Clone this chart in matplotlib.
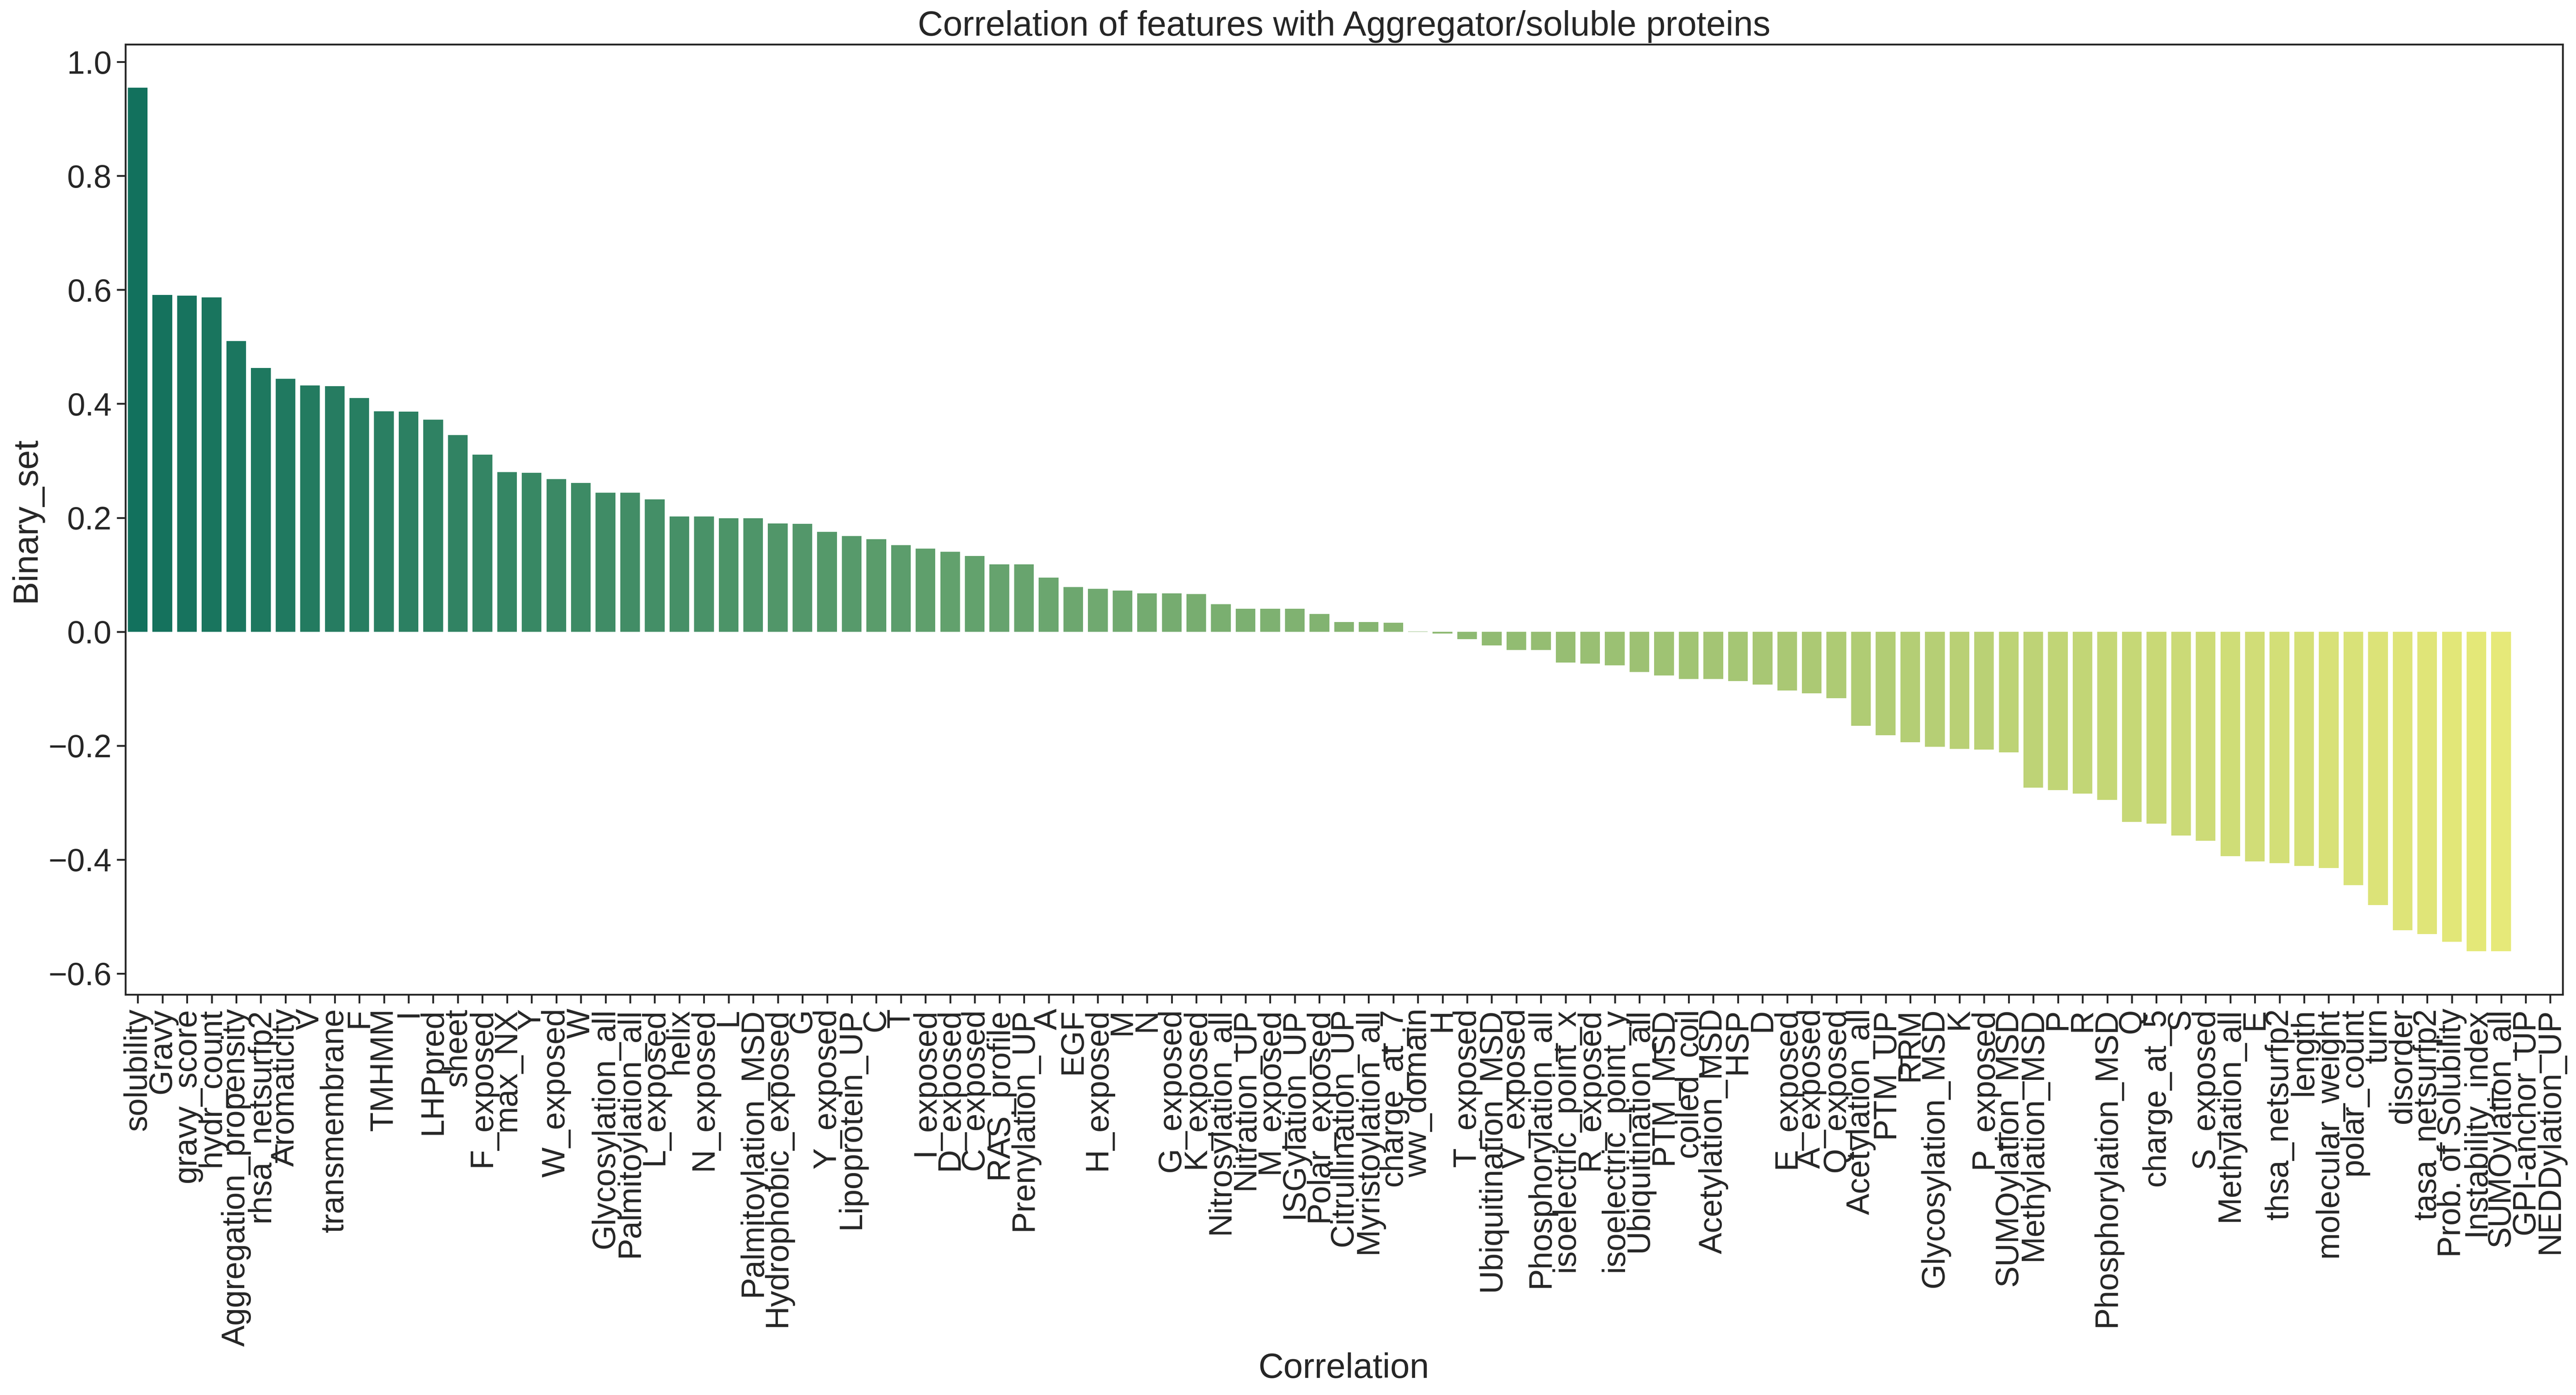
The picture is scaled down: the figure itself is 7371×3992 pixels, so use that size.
"""
Bar chart: correlation of each feature with the Aggregator/soluble label.
Writes out.png (7371 x 3992 px).
"""

import matplotlib

matplotlib.use("Agg")
import matplotlib.pyplot as plt
import seaborn as sns

features = [
    "solubility", "Gravy", "gravy_score", "hydr_count", "Aggregation_propensity",
    "rhsa_netsurfp2", "Aromaticity", "V", "transmembrane", "F",
    "TMHMM", "I", "LHPpred", "sheet", "F_exposed",
    "max_NX", "Y", "W_exposed", "W", "Glycosylation_all",
    "Palmitoylation_all", "L_exposed", "helix", "N_exposed", "L",
    "Palmitoylation_MSD", "Hydrophobic_exposed", "G", "Y_exposed", "Lipoprotein_UP",
    "C", "T", "I_exposed", "D_exposed", "C_exposed",
    "RAS_profile", "Prenylation_UP", "A", "EGF", "H_exposed",
    "M", "N", "G_exposed", "K_exposed", "Nitrosylation_all",
    "Nitration_UP", "M_exposed", "ISGylation_UP", "Polar_exposed", "Citrullination_UP",
    "Myristoylation_all", "charge_at_7", "ww_domain", "H", "T_exposed",
    "Ubiquitination_MSD", "V_exposed", "Phosphorylation_all", "isoelectric_point_x", "R_exposed",
    "isoelectric_point_y", "Ubiquitination_all", "PTM_MSD", "coiled_coil", "Acetylation_MSD",
    "HSP", "D", "E_exposed", "A_exposed", "Q_exposed",
    "Acetylation_all", "PTM_UP", "RRM", "Glycosylation_MSD", "K",
    "P_exposed", "SUMOylation_MSD", "Methylation_MSD", "P", "R",
    "Phosphorylation_MSD", "Q", "charge_at_5", "S", "S_exposed",
    "Methylation_all", "E", "thsa_netsurfp2", "length", "molecular_weight",
    "polar_count", "turn", "disorder", "tasa_netsurfp2", "Prob. of Solubility",
    "Instability_index", "SUMOylation_all", "GPI-anchor_UP", "NEDDylation_UP",
]

correlation = [
    0.955, 0.591, 0.590, 0.587, 0.510,
    0.463, 0.444, 0.432, 0.431, 0.410,
    0.387, 0.386, 0.372, 0.345, 0.311,
    0.280, 0.279, 0.268, 0.261, 0.244,
    0.244, 0.232, 0.202, 0.202, 0.199,
    0.199, 0.190, 0.189, 0.175, 0.168,
    0.162, 0.152, 0.146, 0.140, 0.133,
    0.118, 0.118, 0.095, 0.078, 0.075,
    0.072, 0.067, 0.067, 0.066, 0.048,
    0.040, 0.040, 0.040, 0.031, 0.017,
    0.017, 0.016, 0.0005, -0.003, -0.013,
    -0.024, -0.032, -0.032, -0.054, -0.056,
    -0.059, -0.071, -0.077, -0.083, -0.083,
    -0.087, -0.093, -0.103, -0.108, -0.117,
    -0.165, -0.182, -0.194, -0.202, -0.206,
    -0.207, -0.212, -0.274, -0.278, -0.284,
    -0.295, -0.334, -0.337, -0.358, -0.367,
    -0.394, -0.403, -0.406, -0.411, -0.415,
    -0.445, -0.480, -0.524, -0.531, -0.544,
    -0.561, -0.561, 0.0, 0.0,
]

TITLE = "Correlation of features with Aggregator/soluble proteins"

sns.set_theme(style="ticks", font_scale=2)
plt.rcParams["font.family"] = ["Liberation Sans", "DejaVu Sans"]

# seaborn barplot look: "summer" palette, desaturated to 0.75
colors = [sns.desaturate(c, 0.75) for c in sns.color_palette("summer", len(features))]

fig = plt.figure(figsize=(7371 / 300, 3992 / 300), dpi=300)
ax = fig.add_axes([0.0487, 0.2871, 0.9461, 0.6811])

xs = list(range(len(features)))
ax.bar(xs, correlation, width=0.8, color=colors, linewidth=0)
ax.set_xlim(-0.5, len(features) - 0.5)
ax.set_xticks(xs)
ax.set_xticklabels(features, rotation=90)

ax.set_title(TITLE)
ax.set_xlabel("Correlation")
ax.set_ylabel("Binary_set")

fig.savefig("out.png", dpi=300)
